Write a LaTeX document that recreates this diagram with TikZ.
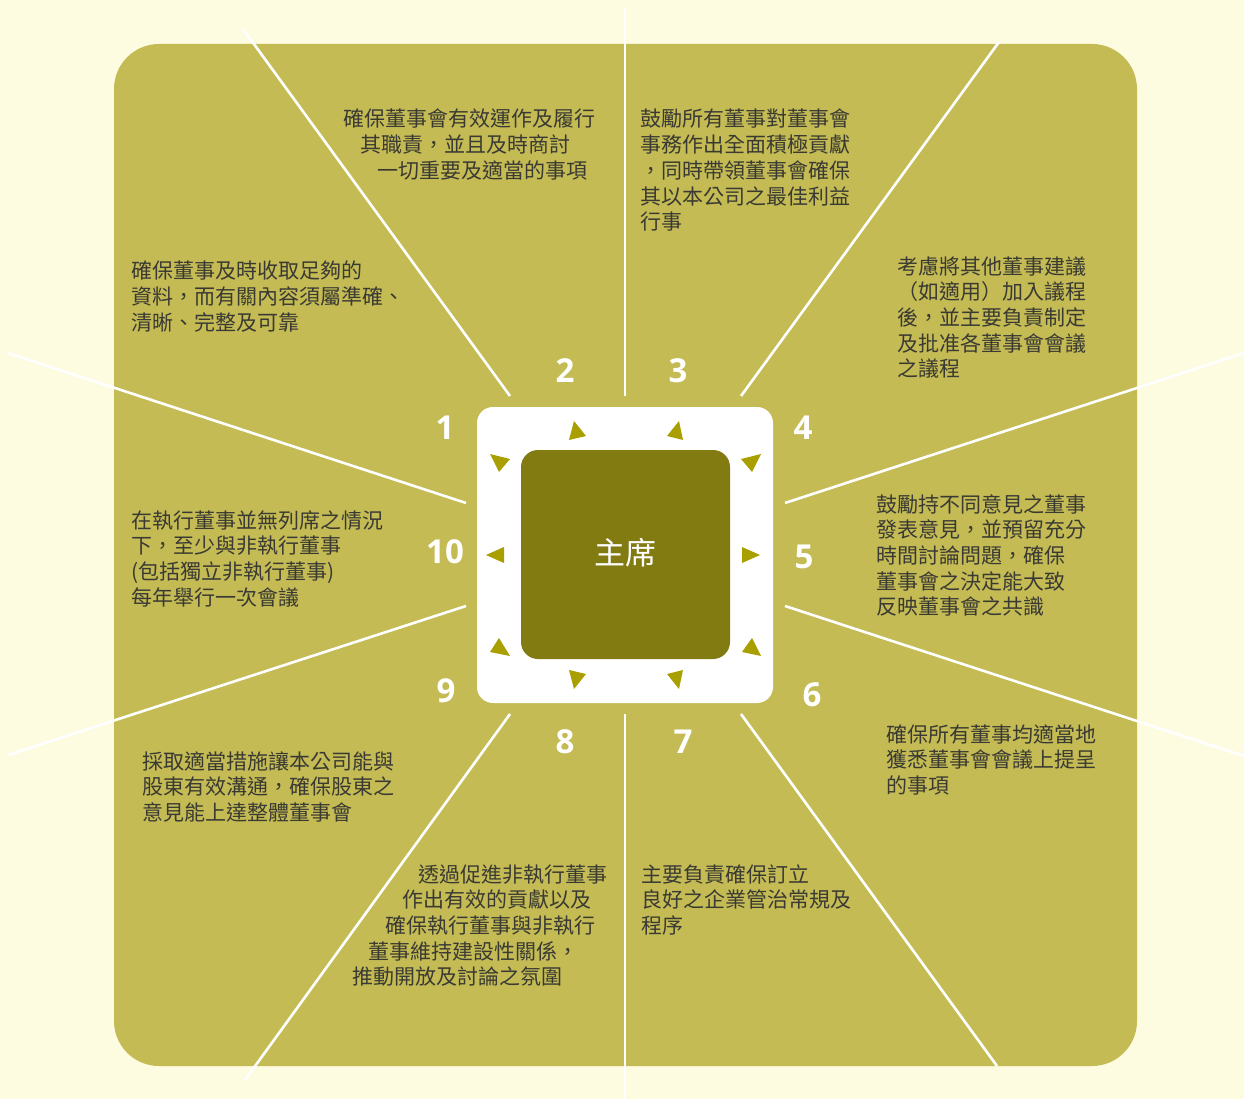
\documentclass[tikz,border=0pt]{standalone}
\usepackage{fontspec}
\newfontfamily\cjk{Noto Sans CJK TC}
\newfontfamily\numfont{Open Sans}
\definecolor{bgc}{HTML}{FEFCE0}
\definecolor{panelc}{HTML}{C4BB55}
\definecolor{innerc}{HTML}{827B12}
\definecolor{tric}{HTML}{A99F00}
\definecolor{txtc}{HTML}{3A3A33}
\begin{document}
\begin{tikzpicture}[x=1pt,y=-1pt,
  txt/.style={font=\cjk\fontsize{21}{25.7}\selectfont, text=txtc, inner sep=0pt, anchor=base west},
  num/.style={font=\numfont\bfseries\fontsize{33}{34}\selectfont, text=white, inner sep=0pt},
  ray/.style={draw=white, line width=2.6pt},
  tri/.style={fill=tric}]
\useasboundingbox (0,0) rectangle (1244,1099);
\fill[bgc] (0,0) rectangle (1244,1099);
% panel
\fill[panelc, rounded corners=45pt] (114,44) rectangle (1137,1066);
% rays
\coordinate (r1a) at (243,29);   \coordinate (r1b) at (510,396);
\coordinate (r2a) at (625,8);    \coordinate (r2b) at (625,396);
\coordinate (r3a) at (999,42);   \coordinate (r3b) at (741,396);
\coordinate (r4a) at (1244,353); \coordinate (r4b) at (785,503);
\coordinate (r5a) at (1244,756); \coordinate (r5b) at (785,606);
\coordinate (r6a) at (997,1066); \coordinate (r6b) at (741,714);
\coordinate (r7a) at (625,1099); \coordinate (r7b) at (625,714);
\coordinate (r8a) at (245,1080); \coordinate (r8b) at (510,714);
\coordinate (r9a) at (8,755);    \coordinate (r9b) at (466,606);
\coordinate (r10a) at (8,353);   \coordinate (r10b) at (466,503);
\foreach \i in {1,...,10} \draw[ray] (r\i a) -- (r\i b);
% boxes
\fill[white, rounded corners=16pt] (477,407) rectangle (773,703);
\fill[innerc, rounded corners=17pt] (521,450) rectangle (730,659);
\node[font=\cjk\fontsize{31}{31}\selectfont, text=white, inner sep=0pt] (chair) at (625,553) {主席};
% triangles
\fill[tri] (490,454) -- (510,459) -- (499,472) -- cycle;
\fill[tri] (574,421) -- (569,440) -- (586,436) -- cycle;
\fill[tri] (679,421) -- (667,436) -- (683,440) -- cycle;
\fill[tri] (741,459) -- (761,454) -- (752,472) -- cycle;
\fill[tri] (760,555) -- (742,547) -- (742,563) -- cycle;
\fill[tri] (742,652) -- (761,656) -- (752,638) -- cycle;
\fill[tri] (667,674) -- (683,670) -- (679,689) -- cycle;
\fill[tri] (569,670) -- (586,674) -- (574,689) -- cycle;
\fill[tri] (490,652) -- (510,656) -- (499,638) -- cycle;
\fill[tri] (486,555) -- (504,547) -- (504,563) -- cycle;
% numbers
\node[num] (n1) at (445,428) {1};
\node[num] (n2) at (565,371) {2};
\node[num] (n3) at (678,371) {3};
\node[num] (n4) at (803,428) {4};
\node[num] (n5) at (804,557) {5};
\node[num] (n6) at (812,695) {6};
\node[num] (n7) at (683,742) {7};
\node[num] (n8) at (565,742) {8};
\node[num] (n9) at (446,691) {9};
\node[num] (n10) at (445,552) {10};
% text blocks
\foreach \xx/\ln [count=\k] in {343/{確保董事會有效運作及履行},360/{其職責，並且及時商討},377/{一切重要及適當的事項}}
  \node[txt] (tb-\k) at (\xx, {127+25.7*(\k-1)}) {\ln};
\foreach \ln [count=\k] in {{鼓勵所有董事對董事會},{事務作出全面積極貢獻},{，同時帶領董事會確保},{其以本公司之最佳利益},{行事}}
  \node[txt] (tc-\k) at (640, {127+25.7*(\k-1)}) {\ln};
\foreach \ln [count=\k] in {{確保董事及時收取足夠的},{資料，而有關內容須屬準確、},{清晰、完整及可靠}}
  \node[txt] (ta-\k) at (131, {279+25.7*(\k-1)}) {\ln};
\foreach \ln [count=\k] in {{考慮將其他董事建議},{（如適用）加入議程},{後，並主要負責制定},{及批准各董事會會議},{之議程}}
  \node[txt] (td-\k) at (897, {274+25.7*(\k-1)}) {\ln};
\foreach \ln [count=\k] in {{在執行董事並無列席之情況},{下，至少與非執行董事},{(包括獨立非執行董事)},{每年舉行一次會議}}
  \node[txt] (tj-\k) at (131, {528+25.7*(\k-1)}) {\ln};
\foreach \ln [count=\k] in {{鼓勵持不同意見之董事},{發表意見，並預留充分},{時間討論問題，確保},{董事會之決定能大致},{反映董事會之共識}}
  \node[txt] (te-\k) at (876, {512+25.7*(\k-1)}) {\ln};
\foreach \ln [count=\k] in {{確保所有董事均適當地},{獲悉董事會會議上提呈},{的事項}}
  \node[txt] (tf-\k) at (886, {742+25.7*(\k-1)}) {\ln};
\foreach \ln [count=\k] in {{採取適當措施讓本公司能與},{股東有效溝通，確保股東之},{意見能上達整體董事會}}
  \node[txt] (ti-\k) at (142, {769+25.7*(\k-1)}) {\ln};
\foreach \ln [count=\k] in {{主要負責確保訂立},{良好之企業管治常規及},{程序}}
  \node[txt] (tg-\k) at (641, {882+25.7*(\k-1)}) {\ln};
\foreach \xx/\ln [count=\k] in {418/{透過促進非執行董事},402/{作出有效的貢獻以及},385/{確保執行董事與非執行},368/{董事維持建設性關係，},352/{推動開放及討論之氛圍}}
  \node[txt] (th-\k) at (\xx, {882+25.7*(\k-1)}) {\ln};
\end{tikzpicture}
\end{document}
